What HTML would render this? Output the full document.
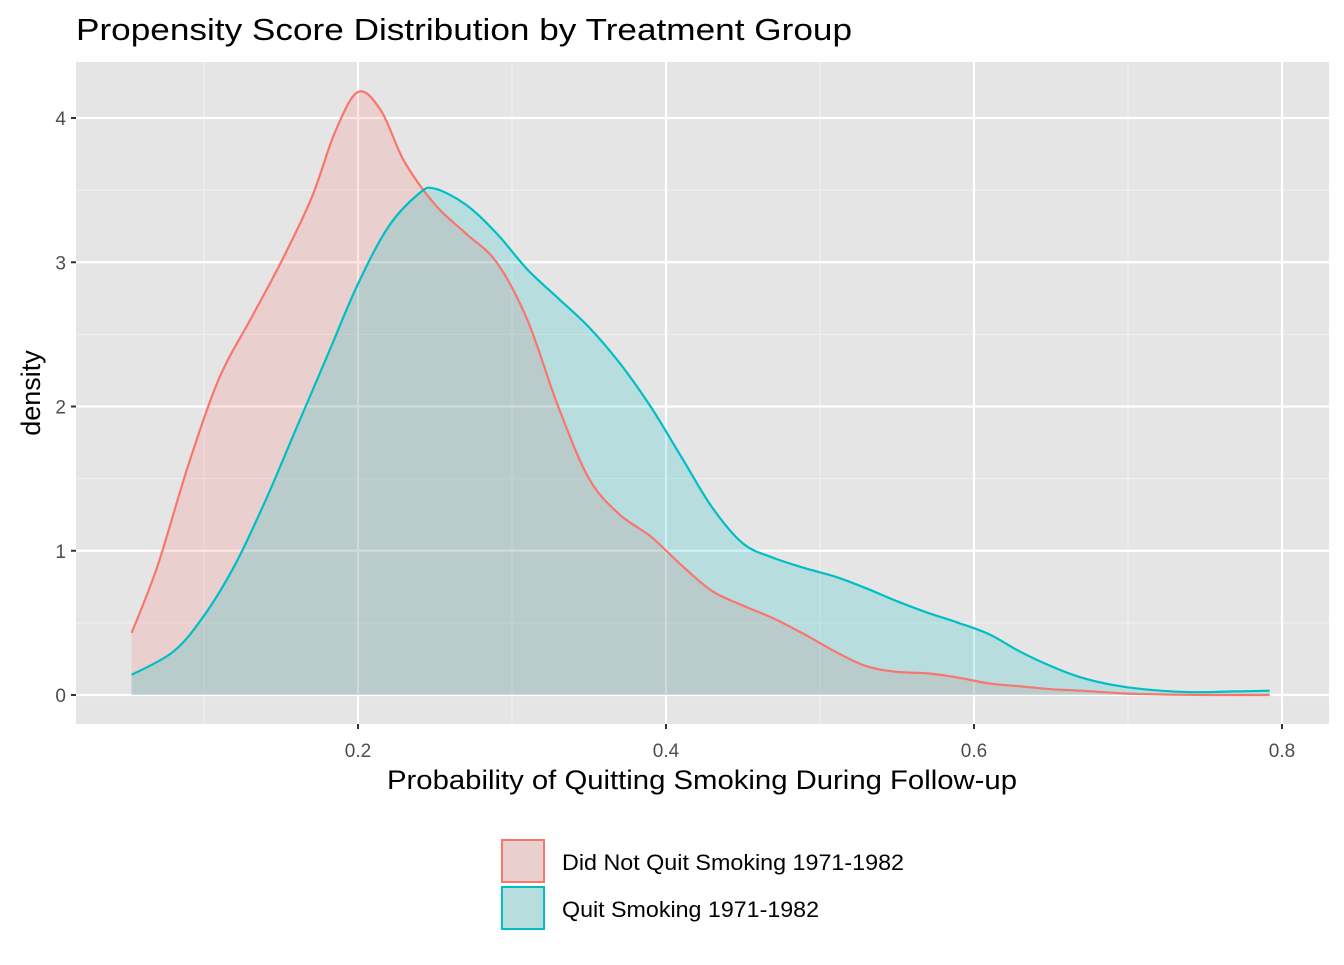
<!DOCTYPE html>
<html><head><meta charset="utf-8"><style>
body{margin:0;background:#fff;font-family:"Liberation Sans",Arial,sans-serif;}
</style></head><body>
<svg id="chart" width="1344" height="960" xmlns="http://www.w3.org/2000/svg" font-family="Liberation Sans, Arial, sans-serif">
<text x="76" y="40" font-size="31" textLength="776" lengthAdjust="spacingAndGlyphs" fill="#000">Propensity Score Distribution by Treatment Group</text>
<rect x="76" y="62" width="1253" height="662" fill="#e5e5e5"/>
<g id="grid"></g>
<g id="series"></g>
<g id="axes"></g>
<text x="702" y="789" font-size="27" textLength="630" lengthAdjust="spacingAndGlyphs" text-anchor="middle">Probability of Quitting Smoking During Follow-up</text>
<text transform="translate(40,393) rotate(-90)" font-size="27" text-anchor="middle">density</text>
<g>
<rect x="502" y="840" width="42" height="42" fill="#e5e5e5"/>
<rect x="502" y="840" width="42" height="42" fill="#f8766d" fill-opacity="0.2" stroke="#f8766d" stroke-width="2"/>
<text x="562" y="870" font-size="22" textLength="342" lengthAdjust="spacingAndGlyphs">Did Not Quit Smoking 1971-1982</text>
<rect x="502" y="887" width="42" height="42" fill="#e5e5e5"/>
<rect x="502" y="887" width="42" height="42" fill="#00bfc4" fill-opacity="0.2" stroke="#00bfc4" stroke-width="2"/>
<text x="562" y="917" font-size="22" textLength="257" lengthAdjust="spacingAndGlyphs">Quit Smoking 1971-1982</text>
</g>
</svg>
<script>
const xTicks=[0.2,0.4,0.6,0.8];
const xMinor=[0.1,0.3,0.5,0.7];
const yTicks=[0,1,2,3,4];
const yMinor=[0.5,1.5,2.5,3.5];
const notQuitX=[0.053,0.07,0.09,0.11,0.13,0.15,0.17,0.185,0.2,0.215,0.23,0.25,0.27,0.29,0.31,0.33,0.35,0.37,0.39,0.41,0.43,0.45,0.47,0.49,0.51,0.53,0.55,0.57,0.59,0.61,0.63,0.65,0.67,0.7,0.75,0.792];
const notQuitY=[0.43,0.9,1.6,2.2,2.6,3.0,3.45,3.9,4.18,4.05,3.7,3.4,3.2,3.0,2.6,2.0,1.5,1.25,1.1,0.9,0.72,0.62,0.53,0.42,0.3,0.2,0.16,0.15,0.12,0.08,0.06,0.04,0.03,0.01,0.0,0.0];
const quitX=[0.053,0.08,0.1,0.12,0.14,0.16,0.18,0.2,0.22,0.24,0.25,0.27,0.29,0.31,0.33,0.35,0.37,0.39,0.41,0.43,0.45,0.47,0.49,0.51,0.53,0.55,0.57,0.59,0.61,0.63,0.65,0.67,0.69,0.71,0.74,0.77,0.792];
const quitY=[0.14,0.3,0.55,0.9,1.35,1.85,2.35,2.85,3.25,3.48,3.51,3.4,3.2,2.95,2.75,2.55,2.3,2.0,1.65,1.3,1.05,0.95,0.88,0.82,0.74,0.65,0.57,0.5,0.42,0.3,0.2,0.12,0.07,0.04,0.02,0.025,0.03];
const NS="http://www.w3.org/2000/svg";
const sx=v=>50+1540*v, sy=v=>695-144.25*v;
const L=76,R=1329,T=62,B=724;
const grid=document.getElementById('grid'),axes=document.getElementById('axes'),ser=document.getElementById('series');
function line(p,x1,y1,x2,y2,c,w,name){const l=document.createElementNS(NS,'line');l.setAttribute('x1',x1);l.setAttribute('y1',y1);l.setAttribute('x2',x2);l.setAttribute('y2',y2);l.setAttribute('stroke',c);l.setAttribute('stroke-width',w);


p.appendChild(l);}
function text(p,x,y,s,anchor,name){const t=document.createElementNS(NS,'text');t.setAttribute('x',x);t.setAttribute('y',y);t.setAttribute('font-size','19');t.setAttribute('fill','#4d4d4d');t.setAttribute('text-anchor',anchor);t.textContent=s;


p.appendChild(t);}
xMinor.forEach(v=>line(grid,sx(v),T,sx(v),B,'#f2f2f2',1.1,'x-minor-gridline'));
yMinor.forEach(v=>line(grid,L,sy(v),R,sy(v),'#f2f2f2',1.1,'y-minor-gridline'));
xTicks.forEach(v=>{line(grid,sx(v),T,sx(v),B,'#fff',2.2,'x-major-gridline');line(axes,sx(v),B,sx(v),B+5,'#333',2,'x-tick');text(axes,sx(v),B+33,v.toFixed(1),'middle','x-tick-label');});
yTicks.forEach(v=>{line(grid,L,sy(v),R,sy(v),'#fff',2.2,'y-major-gridline');line(axes,L-5,sy(v),L,sy(v),'#333',2,'y-tick');text(axes,L-10,sy(v)+7,String(v),'end','y-tick-label');});
function path(xs,ys){
const P=xs.map((x,i)=>[sx(x),sy(ys[i])]);
let d='M'+P[0][0].toFixed(1)+','+P[0][1].toFixed(1);
for(let i=0;i<P.length-1;i++){
const p0=P[Math.max(0,i-1)],p1=P[i],p2=P[i+1],p3=P[Math.min(P.length-1,i+2)];
const c1=[p1[0]+(p2[0]-p0[0])/6,p1[1]+(p2[1]-p0[1])/6];
const c2=[p2[0]-(p3[0]-p1[0])/6,p2[1]-(p3[1]-p1[1])/6];
d+='C'+c1[0].toFixed(1)+','+Math.min(c1[1],695).toFixed(1)+' '+c2[0].toFixed(1)+','+Math.min(c2[1],695).toFixed(1)+' '+p2[0].toFixed(1)+','+p2[1].toFixed(1);
}
return d;}
function area(xs,ys,col,op,name){
const a=document.createElementNS(NS,'path');
a.setAttribute('d',path(xs,ys)+'L'+sx(xs[xs.length-1])+','+sy(0)+'L'+sx(xs[0])+','+sy(0)+'Z');
a.setAttribute('fill',col);a.setAttribute('fill-opacity',op);


ser.appendChild(a);
return ()=>{const l=document.createElementNS(NS,'path');l.setAttribute('d',path(xs,ys));l.setAttribute('fill','none');l.setAttribute('stroke',col);l.setAttribute('stroke-width',2.2);l.setAttribute('stroke-linejoin','round');


ser.appendChild(l);};}
const l1=area(notQuitX,notQuitY,'#f8766d',0.2,'did-not-quit-density');
const l2=area(quitX,quitY,'#00bfc4',0.2,'quit-density');
l1();l2();
</script>
</body></html>
